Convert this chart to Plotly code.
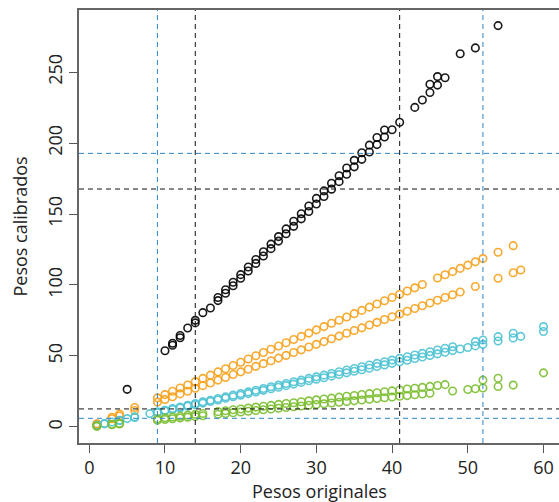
import plotly.graph_objects as go

# ---- data ----
black_a_x = [10, 11, 12, 13, 14, 15, 17, 18, 19, 20, 21, 22, 23, 24, 25, 26, 27, 28, 29, 30,
             31, 32, 33, 34, 35, 36, 37, 38, 39, 45, 46, 49]
black_a_y = [53.7, 59.0, 64.4, 69.7, 75.1, 80.5, 91.2, 96.6, 101.9, 107.3, 112.7, 118.0, 123.4,
             128.8, 134.1, 139.5, 144.9, 150.2, 155.6, 161.0, 166.3, 171.7, 177.0, 182.4, 187.8,
             193.1, 198.5, 203.9, 209.2, 241.4, 246.8, 262.9]
black_b_x = [5, 11, 12, 14, 16, 17, 18, 19, 20, 21, 22, 23, 24, 25, 26, 27, 28, 29, 30, 31, 32,
             33, 34, 35, 36, 37, 38, 39, 40, 41, 43, 44, 45, 46, 47, 51, 54]
black_b_y = [26.5, 57.6, 62.8, 73.3, 83.8, 89.0, 94.2, 99.5, 104.7, 109.9, 115.2, 120.4, 125.6,
             130.9, 136.1, 141.3, 146.6, 151.8, 157.1, 162.3, 167.5, 172.8, 178.0, 183.2, 188.5,
             193.7, 198.9, 204.2, 209.4, 214.6, 225.1, 230.3, 235.6, 240.8, 246.0, 267.0, 282.7]

orange_a_x = [1, 3, 4, 6, 9, 10, 11, 12, 13, 14, 15, 16, 17, 18, 19, 20, 21, 22, 23, 24, 25, 26,
              27, 28, 29, 30, 31, 32, 33, 34, 35, 36, 37, 38, 39, 40, 41, 42, 43, 44, 46, 47, 48,
              49, 50, 51, 52, 54, 56]
orange_a_y = [2.3, 6.8, 9.1, 13.7, 20.5, 22.8, 25.1, 27.4, 29.6, 31.9, 34.2, 36.5, 38.8, 41.0,
              43.3, 45.6, 47.9, 50.2, 52.4, 54.7, 57.0, 59.3, 61.6, 63.8, 66.1, 68.4, 70.7, 73.0,
              75.2, 77.5, 79.8, 82.1, 84.4, 86.6, 88.9, 91.2, 93.5, 95.8, 98.0, 100.3, 104.9,
              107.2, 109.4, 111.7, 114.0, 116.3, 118.6, 123.1, 127.7]
orange_b_x = [1, 3, 4, 6, 9, 10, 11, 12, 13, 14, 15, 16, 17, 18, 19, 20, 21, 22, 23, 24, 25, 26,
              27, 28, 29, 30, 31, 32, 33, 34, 35, 36, 37, 38, 39, 40, 41, 42, 43, 44, 45, 46, 47,
              48, 49, 51, 54, 56, 57]
orange_b_y = [1.9, 5.8, 7.8, 11.6, 17.5, 19.4, 21.3, 23.3, 25.2, 27.2, 29.1, 31.0, 33.0, 34.9,
              36.9, 38.8, 40.7, 42.7, 44.6, 46.6, 48.5, 50.4, 52.4, 54.3, 56.3, 58.2, 60.1, 62.1,
              64.0, 66.0, 67.9, 69.8, 71.8, 73.7, 75.7, 77.6, 79.5, 81.5, 83.4, 85.4, 87.3, 89.2,
              91.2, 93.1, 95.1, 98.9, 104.8, 108.6, 110.6]

cyan_a_x = [1, 2, 3, 4, 5, 6, 8, 9, 10, 11, 12, 13, 14, 15, 16, 17, 18, 19, 20, 21, 22, 23, 24,
            25, 26, 27, 28, 29, 30, 31, 32, 33, 34, 35, 36, 37, 38, 39, 40, 41, 42, 43, 44, 45,
            46, 47, 48, 51, 52, 54, 56, 60]
cyan_a_y = [1.2, 2.4, 3.5, 4.7, 5.9, 7.1, 9.4, 10.6, 11.8, 13.0, 14.1, 15.3, 16.5, 17.7, 18.8,
            20.0, 21.2, 22.4, 23.6, 24.7, 25.9, 27.1, 28.3, 29.5, 30.6, 31.8, 33.0, 34.2, 35.3,
            36.5, 37.7, 38.9, 40.1, 41.2, 42.4, 43.6, 44.8, 45.9, 47.1, 48.3, 49.5, 50.7, 51.8,
            53.0, 54.2, 55.4, 56.5, 60.1, 61.3, 63.6, 66.0, 70.7]
cyan_b_x = [2, 4, 6, 9, 10, 11, 12, 13, 14, 15, 16, 17, 18, 19, 20, 21, 22, 23, 24, 25, 26, 27,
            28, 29, 30, 31, 32, 33, 34, 35, 36, 37, 38, 39, 40, 41, 42, 43, 44, 45, 46, 47, 48,
            49, 50, 51, 52, 54, 56, 57, 60]
cyan_b_y = [2.2, 4.5, 6.7, 10.1, 11.2, 12.3, 13.4, 14.6, 15.7, 16.8, 17.9, 19.0, 20.2, 21.3,
            22.4, 23.5, 24.6, 25.8, 26.9, 28.0, 29.1, 30.2, 31.4, 32.5, 33.6, 34.7, 35.8, 37.0,
            38.1, 39.2, 40.3, 41.4, 42.6, 43.7, 44.8, 45.9, 47.0, 48.2, 49.3, 50.4, 51.5, 52.6,
            53.8, 54.9, 56.0, 57.1, 58.2, 60.5, 62.7, 63.8, 67.2]

green_a_x = [1, 3, 4, 9, 10, 11, 12, 13, 14, 15, 17, 18, 19, 20, 21, 22, 23, 24, 25, 26, 27, 28,
             29, 30, 31, 32, 33, 34, 35, 36, 37, 38, 39, 40, 41, 42, 43, 44, 45, 46, 47, 52, 54,
             60]
green_a_y = [0.6, 1.9, 2.5, 5.7, 6.4, 7.0, 7.6, 8.3, 8.9, 9.5, 10.8, 11.4, 12.1, 12.7, 13.3,
             14.0, 14.6, 15.2, 15.9, 16.5, 17.1, 17.8, 18.4, 19.1, 19.7, 20.3, 21.0, 21.6, 22.2,
             22.9, 23.5, 24.1, 24.8, 25.4, 26.0, 26.7, 27.3, 27.9, 28.6, 29.2, 29.8, 33.0, 34.3,
             38.1]
green_b_x = [1, 3, 4, 9, 10, 11, 12, 13, 14, 15, 17, 18, 19, 20, 21, 22, 23, 24, 25, 26, 27, 28,
             29, 30, 31, 32, 33, 34, 35, 36, 37, 38, 39, 40, 41, 42, 43, 44, 45, 48, 50, 51, 52,
             54, 56]
green_b_y = [0.5, 1.6, 2.1, 4.7, 5.3, 5.8, 6.3, 6.9, 7.4, 7.9, 9.0, 9.5, 10.0, 10.5, 11.1, 11.6,
             12.1, 12.6, 13.2, 13.7, 14.2, 14.8, 15.3, 15.8, 16.3, 16.9, 17.4, 17.9, 18.4, 19.0,
             19.5, 20.0, 20.6, 21.1, 21.6, 22.1, 22.7, 23.2, 23.7, 25.3, 26.4, 26.9, 27.4, 28.5,
             29.5]

vlines_black = [14, 41]
vlines_blue = [9, 52]
hlines_black = [12.7, 167.6]
hlines_blue = [6.1, 192.7]

x_ticks = [0, 10, 20, 30, 40, 50, 60]
y_ticks = [0, 50, 100, 150, 200, 250]

BLACK = "#000000"
ORANGE = "#F7A01A"
CYAN = "#4EC2D3"
GREEN = "#7BBE30"
BLUE = "#2E86C8"
FONT = "Open Sans"

fig = go.Figure()

series = [
    (black_a_x, black_a_y, BLACK), (black_b_x, black_b_y, BLACK),
    (orange_a_x, orange_a_y, ORANGE), (orange_b_x, orange_b_y, ORANGE),
    (cyan_a_x, cyan_a_y, CYAN), (cyan_b_x, cyan_b_y, CYAN),
    (green_a_x, green_a_y, GREEN), (green_b_x, green_b_y, GREEN),
]
for xs, ys, col in series:
    fig.add_trace(go.Scatter(
        x=xs, y=ys, mode="markers",
        marker=dict(symbol="circle-open", size=7.5, color=col, opacity=0.9,
                    line=dict(width=1.6, color=col)),
        showlegend=False, hoverinfo="skip"))

dash = "5px,4px"
for v in vlines_black:
    fig.add_shape(type="line", xref="x", yref="paper", x0=v, x1=v, y0=0, y1=1,
                  line=dict(color="#111111", width=1, dash=dash), layer="above")
for v in vlines_blue:
    fig.add_shape(type="line", xref="x", yref="paper", x0=v, x1=v, y0=0, y1=1,
                  line=dict(color=BLUE, width=1, dash=dash), layer="above")
for h in hlines_black:
    fig.add_shape(type="line", xref="paper", yref="y", x0=0, x1=1, y0=h, y1=h,
                  line=dict(color="#111111", width=1, dash=dash), layer="above")
for h in hlines_blue:
    fig.add_shape(type="line", xref="paper", yref="y", x0=0, x1=1, y0=h, y1=h,
                  line=dict(color=BLUE, width=1, dash=dash), layer="above")

axis_common = dict(showgrid=False, zeroline=False, showline=True, linecolor="#666666",
                   linewidth=1.5, ticks="outside", ticklen=8, tickwidth=1.2,
                   tickcolor="#555555", automargin=False,
                   tickfont=dict(family=FONT, size=18, color="#222222"))

fig.update_layout(
    width=559, height=502,
    margin=dict(l=79, r=0, t=10, b=59),
    paper_bgcolor="white", plot_bgcolor="white",
    font=dict(family=FONT, size=18, color="#222222"),
    xaxis=dict(range=[-1.36, 62.05], tickvals=x_ticks, mirror=True, **axis_common),
    yaxis=dict(range=[-11.3, 293.7], tickvals=y_ticks, tickangle=-90, **axis_common),
    annotations=[
        dict(text="Pesos originales", xref="paper", yref="paper", x=0.5, y=-0.11,
             xanchor="center", yanchor="middle", showarrow=False,
             font=dict(family=FONT, size=18, color="#222222")),
        dict(text="Pesos calibrados", xref="paper", yref="paper", x=-0.125, y=0.5,
             xanchor="center", yanchor="middle", textangle=-90, showarrow=False,
             font=dict(family=FONT, size=18, color="#222222")),
    ],
)

fig.write_html("out.html", config={"displayModeBar": False},
               post_script="document.body.style.margin='0';")
